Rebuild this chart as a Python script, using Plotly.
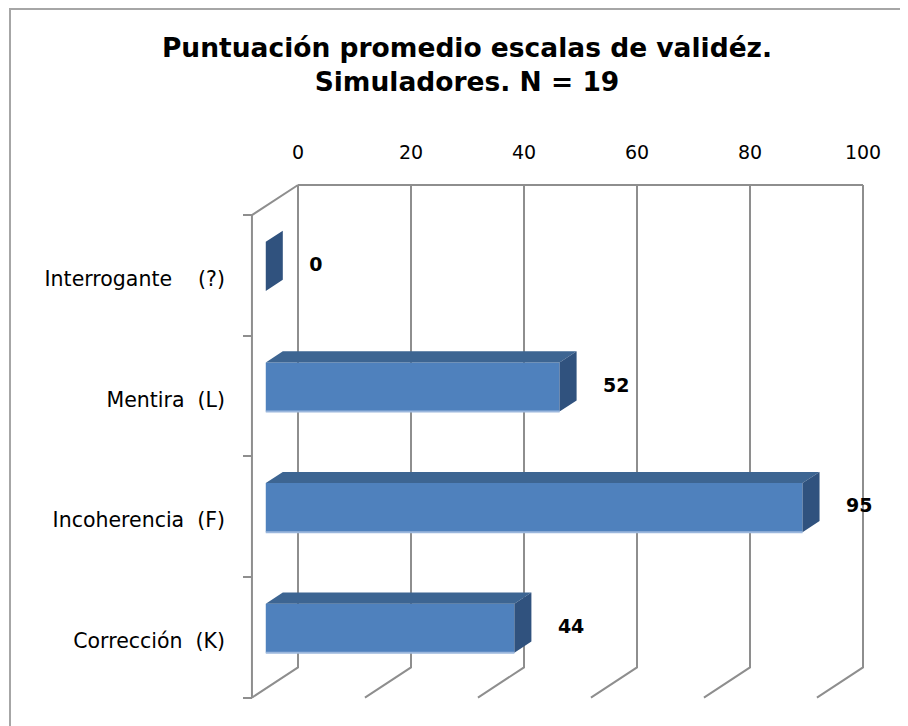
import plotly.graph_objects as go

TITLE = "Puntuación promedio escalas de validéz.<br>Simuladores. N = 19"
CATEGORIES = [
    "Interrogante\u00a0\u00a0\u00a0\u00a0(?)",
    "Mentira\u00a0\u00a0(L)",
    "Incoherencia\u00a0\u00a0(F)",
    "Corrección\u00a0\u00a0(K)",
]
VALUES = [0, 52, 95, 44]
X_TICKS = [0, 20, 40, 60, 80, 100]

# palette
FRONT = "#4F81BD"
FRONT_EDGE = "#9BB7DD"
TOP = "#3D6592"
SIDE = "#30527E"
GRID = "#8E8E8E"
BORDER = "#A6A6A6"
FONT = "DejaVu Sans"

# page body keeps its 8px margin, so the figure is drawn 8px in
OFF = 8
W, H = 908 - OFF, 726 - OFF

# fake 3-D box, all in axis units
PX_X, X0 = 5.65, 298 - OFF      # px per value unit, px of value 0 on back wall
PX_Y, Y0 = 120.6, 245.3 - OFF   # px per category, px of first category on back wall
DX, DY = -8.15, 0.25            # back wall -> front edge of floor
D_FRONT, D_BACK = 0.70, 0.33
HALF = 0.2035

n = len(VALUES)
lo, hi = -0.5, n - 0.5


def sx(d):
    return DX * d


def sy(d):
    return DY * d


fig = go.Figure()

# walls + gridlines
gx, gy = [], []
for t in X_TICKS:
    gx += [t, t, t + DX, None]
    gy += [lo, hi, hi + DY, None]
gx += [X_TICKS[0], X_TICKS[-1], None, X_TICKS[0], DX, DX, None]
gy += [lo, lo, None, lo, lo + DY, hi + DY, None]
fig.add_scatter(x=gx, y=gy, mode="lines", line=dict(color=GRID, width=2),
                hoverinfo="skip", showlegend=False)

# bars: front, top and side faces
fx, fy, tx, ty, px_, py, ex, ey = [], [], [], [], [], [], [], []
for i, v in enumerate(VALUES):
    a, b = i - HALF, i + HALF
    f0, f1 = sx(D_FRONT), v + sx(D_FRONT)
    fx += [f0, f1, f1, f0, f0, None]
    fy += [a + sy(D_FRONT), a + sy(D_FRONT), b + sy(D_FRONT), b + sy(D_FRONT), a + sy(D_FRONT), None]
    tx += [sx(D_FRONT), v + sx(D_FRONT), v + sx(D_BACK), sx(D_BACK), sx(D_FRONT), None]
    ty += [a + sy(D_FRONT), a + sy(D_FRONT), a + sy(D_BACK), a + sy(D_BACK), a + sy(D_FRONT), None]
    px_ += [v + sx(D_FRONT), v + sx(D_BACK), v + sx(D_BACK), v + sx(D_FRONT), v + sx(D_FRONT), None]
    py += [a + sy(D_FRONT), a + sy(D_BACK), b + sy(D_BACK), b + sy(D_FRONT), a + sy(D_FRONT), None]
    if v > 0:
        ex += [f0, f1, None]
        ey += [b + sy(D_FRONT), b + sy(D_FRONT), None]

for xs, ys, c in [(fx, fy, FRONT), (tx, ty, TOP), (px_, py, SIDE)]:
    fig.add_scatter(x=xs, y=ys, mode="lines", fill="toself", fillcolor=c,
                    line=dict(width=0, color=c), hoverinfo="skip", showlegend=False)
fig.add_scatter(x=ex, y=ey, mode="lines", line=dict(color=FRONT_EDGE, width=2),
                hoverinfo="skip", showlegend=False)

# value labels
fig.add_scatter(x=[v + 2 for v in VALUES], y=[i + sy(D_FRONT) for i in range(n)],
                mode="text", text=[str(v) for v in VALUES], textposition="middle right",
                textfont=dict(family=FONT, size=19, color="black", weight="bold"),
                hoverinfo="skip", showlegend=False, cliponaxis=False)

fig.update_layout(
    width=W, height=H,
    margin=dict(l=0, r=0, t=0, b=0),
    paper_bgcolor="white", plot_bgcolor="white",
    font=dict(family=FONT, size=19, color="black"),
    title=dict(text=TITLE, x=(467 - OFF) / W, xanchor="center", y=0.932, yanchor="top",
               font=dict(family=FONT, size=26.5, color="black", weight="bold")),
    shapes=[dict(type="rect", xref="paper", yref="paper",
                 x0=(10 - OFF) / W, x1=1.05, y0=-0.05, y1=1 - 1 / H,
                 line=dict(color=BORDER, width=2), layer="below")],
)
fig.update_xaxes(
    range=[-X0 / PX_X, (W - X0) / PX_X], anchor="free", position=1 - (185 - OFF) / H,
    side="top", tickmode="array", tickvals=X_TICKS, showgrid=False,
    zeroline=False, showline=False, ticks="", ticklabelstandoff=22,
)
fig.update_yaxes(
    range=[(H - Y0) / PX_Y, -Y0 / PX_Y], anchor="free", position=(252 - OFF) / W,
    tickmode="array", tickvals=[i + DY + 0.03 for i in range(n)], ticktext=CATEGORIES,
    tickfont=dict(size=20.5),
    showgrid=False, zeroline=False, showline=False, ticks="", ticklabelstandoff=27,
    minor=dict(tickmode="array", tickvals=[lo + DY + k for k in range(n + 1)],
               ticks="outside", ticklen=9, tickcolor=GRID, tickwidth=2, showgrid=False),
)

fig.write_html("out.html")
